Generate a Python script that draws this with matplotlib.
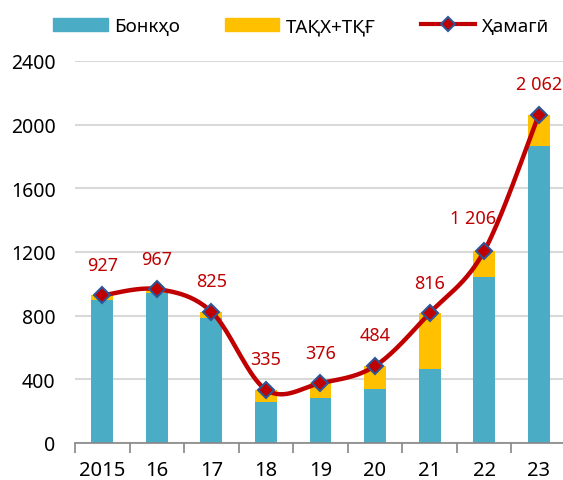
import numpy as np
import matplotlib.pyplot as plt
from matplotlib.patches import Patch
from matplotlib.lines import Line2D

plt.rcParams['font.family'] = ['Noto Sans', 'DejaVu Sans']

# Data
years = ['2015', '16', '17', '18', '19', '20', '21', '22', '23']
bank = [899, 940, 785, 260, 285, 342, 465, 1040, 1868]
total = [927, 967, 825, 335, 376, 484, 816, 1206, 2062]
other = [t - b for t, b in zip(total, bank)]
total_labels = ['927', '967', '825', '335', '376', '484', '816', '1 206', '2 062']

BLUE = '#4BACC6'
YELLOW = '#FFC000'
RED = '#C00000'
EDGE = '#2F5597'


def smooth_curve(xs, ys, steps=40):
    # Catmull-Rom style bezier smoothing, like a spreadsheet "smoothed line"
    pts = np.column_stack([xs, ys]).astype(float)
    n = len(pts)
    out = []
    for i in range(n - 1):
        p0 = pts[i - 1] if i > 0 else pts[i]
        p1 = pts[i]
        p2 = pts[i + 1]
        p3 = pts[i + 2] if i + 2 < n else pts[i + 1]
        c1 = p1 + (p2 - p0) / 6.0
        c2 = p2 - (p3 - p1) / 6.0
        t = np.linspace(0, 1, steps)[:, None]
        seg = ((1 - t) ** 3) * p1 + 3 * ((1 - t) ** 2) * t * c1 + 3 * (1 - t) * t ** 2 * c2 + t ** 3 * p2
        out.append(seg if i == 0 else seg[1:])
    out = np.vstack(out)
    return out[:, 0], out[:, 1]


fig = plt.figure(figsize=(5.63, 4.81), dpi=100)
ax = fig.add_axes([75 / 563, 37 / 481, 491 / 563, 382 / 481])

x = np.arange(len(years))
ax.bar(x, bank, width=0.4, color=BLUE, zorder=2)
ax.bar(x, other, width=0.4, bottom=bank, color=YELLOW, zorder=2)

sx, sy = smooth_curve(x, total)
ax.plot(sx, sy, color=RED, lw=3.2, zorder=3, solid_capstyle='round')
ax.plot(x, total, ls='none', marker='D', ms=8.5, mfc=RED, mec=EDGE, mew=1.5, zorder=4)

for i, (t, lab) in enumerate(zip(total, total_labels)):
    dx = -8 if i == 7 else 0
    dy = 24 if i == 7 else 22
    ax.annotate(lab, (i, t), xytext=(dx, dy), textcoords='offset points',
                ha='center', va='center', color=RED, fontsize=13, zorder=5)

ax.set_xlim(-0.5, len(years) - 0.5)
ax.set_ylim(0, 2400)
ax.set_yticks(range(0, 2401, 400))
ax.set_xticks(x)
ax.set_xticklabels(years)
ax.set_xticks(np.arange(-0.5, len(years), 1.0), minor=True)
ax.tick_params(axis='x', which='major', length=0, pad=12, labelsize=14.5)
ax.tick_params(axis='x', which='minor', length=7, width=1.2, color='#868686', direction='out')
ax.tick_params(axis='y', length=0, pad=14, labelsize=14)
ax.grid(axis='y', color='#D9D9D9', lw=1.5, zorder=0)
ax.set_axisbelow(True)
for s in ['top', 'right', 'left']:
    ax.spines[s].set_visible(False)
ax.spines['bottom'].set_color('#868686')
ax.spines['bottom'].set_linewidth(1.2)

handles = [
    Patch(color=BLUE, label='Бонкҳо'),
    Patch(color=YELLOW, label='ТАҚХ+ТҚҒ'),
    Line2D([0], [0], color=RED, lw=3, marker='D', ms=7, mfc=RED, mec=EDGE, mew=1.5, label='Ҳамагӣ'),
]
fig.legend(handles=handles, loc='center', bbox_to_anchor=(0.535, 1 - 27 / 481), ncol=3,
           frameon=False, fontsize=13.5, handlelength=2.9, handleheight=0.7,
           handletextpad=0.35, columnspacing=2.4)

fig.savefig('out.png', dpi=100)
